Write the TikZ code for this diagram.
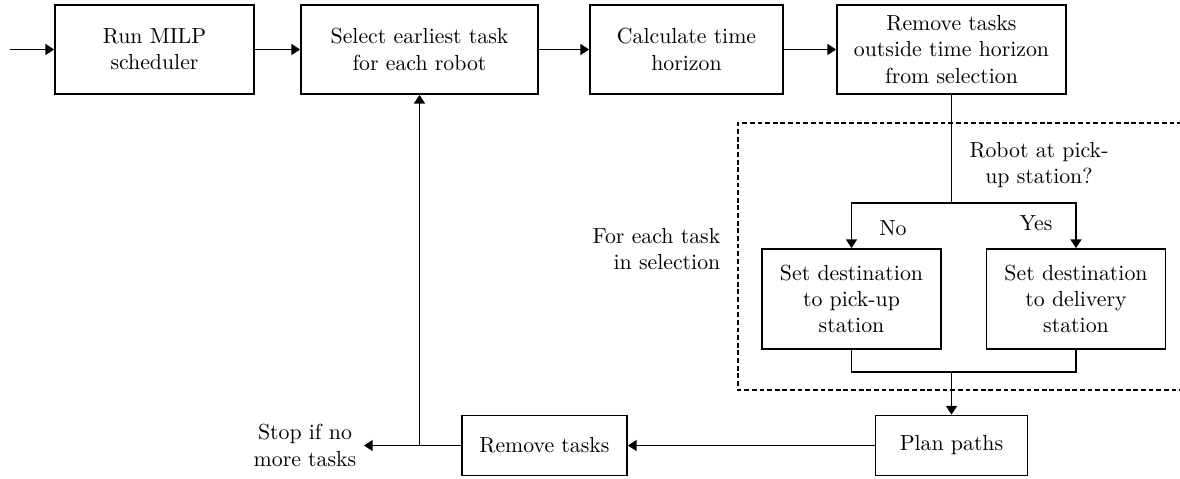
\documentclass[tikz,border=0pt]{standalone}
\usetikzlibrary{arrows.meta}
\newlength\pxu
\setlength\pxu{0.4587pt}
\begin{document}
\begin{tikzpicture}[x=0.4587pt,y=-0.4587pt,
  box/.style={draw, line width=0.8pt, align=center, inner sep=2pt},
  arr/.style={-{Triangle[length=4pt,width=5pt]}, line width=0.8pt},
  ln/.style={line width=0.8pt},
  dashbox/.style={line width=0.6pt, dash pattern=on 2.2pt off 1.3pt},
  lbl/.style={inner sep=3.33pt}]
\useasboundingbox (0,0) rectangle (1180,478);
% top row
\node[box, minimum width={199*\pxu}, minimum height={89*\pxu}] (run) at (154.5,49.5) {Run MILP\\scheduler};
\node[box, minimum width={237*\pxu}, minimum height={89*\pxu}] (sel) at (419.5,49.5) {Select earliest task\\for each robot};
\node[box, minimum width={193*\pxu}, minimum height={89*\pxu}] (calc) at (686.5,49.5) {Calculate time\\horizon};
\node[box, minimum width={229*\pxu}, minimum height={89*\pxu}] (rem) at (951.5,49.5) {Remove tasks\\outside time horizon\\from selection};
% inner boxes
\node[box, minimum width={179*\pxu}, minimum height={100*\pxu}] (setp) at (851.5,299) {Set destination\\to pick-up\\station};
\node[box, minimum width={179*\pxu}, minimum height={100*\pxu}] (setd) at (1076,299) {Set destination\\to delivery\\station};
% bottom row
\node[box, minimum width={152*\pxu}, minimum height={60*\pxu}] (plan) at (951.5,445.5) {Plan paths};
\node[box, minimum width={165*\pxu}, minimum height={60*\pxu}] (remt) at (544.5,445.5) {Remove tasks};
% labels
\node[lbl, align=center] (stop) at (305,445.5) {Stop if no\\more tasks};
\node[lbl, align=right, anchor=east] (foreach) at (728,249) {For each task\\in selection};
\node[lbl, align=center] (robot) at (1039,165) {Robot at pick-\\up station?};
\node[lbl] (no) at (893,228) {No};
\node[lbl] (yes) at (1036,223) {Yes};
% coordinates
\coordinate (start) at (10,49.5);
\coordinate (br) at (951.5,203);
\coordinate (jn) at (951.5,372);
\coordinate (dtr) at (1182,123);
\coordinate (dtl) at (738,123);
\coordinate (dbl) at (738,390);
\coordinate (dbr) at (1182,390);
% dashed region
\draw[dashbox] (dtr) -- (dtl) -- (dbl) -- (dbr);
% connectors
\draw[arr] (start) -- (run.west);
\draw[arr] (run.east) -- (sel.west);
\draw[arr] (sel.east) -- (calc.west);
\draw[arr] (calc.east) -- (rem.west);
\draw[ln] (rem.south) -- (br);
\draw[arr] (br) -| (setp.north);
\draw[arr] (br) -| (setd.north);
\draw[ln] (setp.south) |- (jn) -| (setd.south);
\draw[arr] (jn) -- (plan.north);
\draw[arr] (plan.west) -- (remt.east);
\coordinate (j) at (sel.south |- remt.west);
\draw[arr] (remt.west) -- (stop.east);
\draw[arr] (j) -- (sel.south);
\end{tikzpicture}
\end{document}
